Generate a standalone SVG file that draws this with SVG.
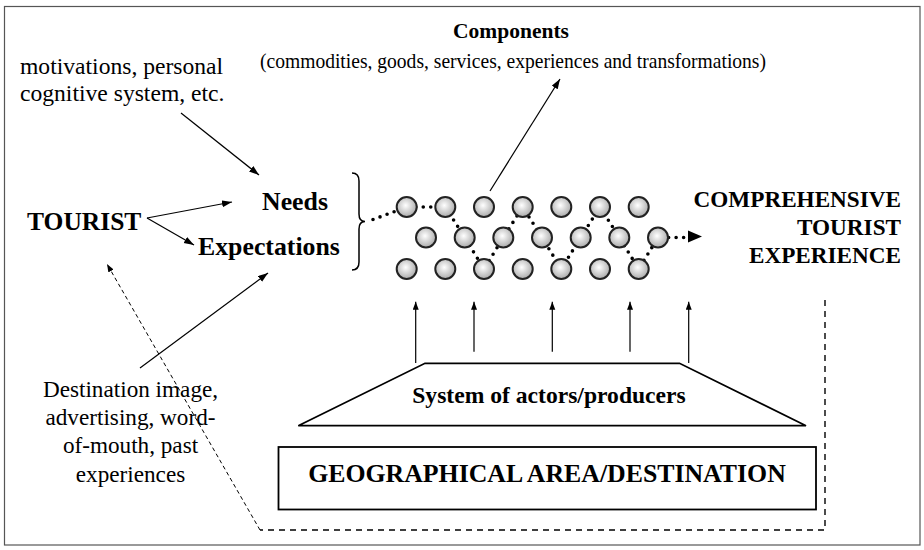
<svg xmlns="http://www.w3.org/2000/svg" width="924" height="550" viewBox="0 0 924 550" font-family="'Liberation Serif', 'Times New Roman', 'DejaVu Serif', serif">
<style>
text{font-family:'Liberation Serif','Times New Roman','DejaVu Serif',serif;fill:#000}
.b{font-weight:bold}
.ln{stroke:#000;stroke-width:1.2;fill:none}
.node{fill:url(#g);stroke:#222;stroke-width:2}
</style>
<defs>
<radialGradient id="g" cx="0.45" cy="0.42" r="0.6">
<stop offset="0" stop-color="#ffffff"/>
<stop offset="1" stop-color="#a8a8a8"/>
</radialGradient>
<marker id="ah" markerUnits="userSpaceOnUse" markerWidth="11" markerHeight="8" refX="10" refY="3.5" orient="auto">
<path d="M0,0 L10,3.5 L0,7 z" fill="#000"/>
</marker>
<marker id="ahs" markerUnits="userSpaceOnUse" markerWidth="9" markerHeight="7" refX="8" refY="3" orient="auto">
<path d="M0,0 L8,3 L0,6 z" fill="#000"/>
</marker>
</defs>
<rect x="4.5" y="6.5" width="915.5" height="538.5" fill="#fff" stroke="#555" stroke-width="1.2"/>

<g id="connectors">
<line class="ln" x1="181" y1="113" x2="259" y2="175" marker-end="url(#ah)"/>
<line class="ln" x1="147" y1="218" x2="232" y2="202" stroke-width="0.9" marker-end="url(#ah)"/>
<line class="ln" x1="147" y1="218" x2="194" y2="245" stroke-width="0.9" marker-end="url(#ah)"/>
<line class="ln" x1="140" y1="368" x2="268" y2="273" marker-end="url(#ah)"/>
<line class="ln" x1="490" y1="191" x2="560" y2="79" marker-end="url(#ah)"/>
<path d="M825,300 L825,530 L260,530" fill="none" stroke="#000" stroke-width="1.4" stroke-dasharray="6,5"/>
<path d="M260,530 L107,264" fill="none" stroke="#000" stroke-width="1" stroke-dasharray="4,3" marker-end="url(#ahs)"/>
<line class="ln" x1="415.7" y1="363" x2="415.7" y2="301.7" marker-end="url(#ahs)"/>
<line class="ln" x1="474" y1="351.7" x2="474" y2="301.7" marker-end="url(#ahs)"/>
<line class="ln" x1="552.3" y1="351.7" x2="552.3" y2="301.7" marker-end="url(#ahs)"/>
<line class="ln" x1="630" y1="351.7" x2="630" y2="301.7" marker-end="url(#ahs)"/>
<line class="ln" x1="688.7" y1="363" x2="688.7" y2="301.7" marker-end="url(#ahs)"/>
<path d="M373,219.5 L406.7,207 L445.3,207 L464.7,237.5 L484,269 L503.3,237.5 L522.7,207 L542,237.5 L561.3,269 L580.7,237.5 L600,207 L619.3,237.5 L638.7,269 L658,237.5 L686,237.5" fill="none" stroke="#000" stroke-width="3.6" stroke-linecap="round" stroke-dasharray="0,7.5"/>
<path d="M688,230.5 L702,236.5 L688,242.5 z" fill="#000"/>
</g>

<g id="brace">
<path d="M352,173 Q359,173 359,181 L359,214 Q359,221.5 365,221.5 Q359,221.5 359,229 L359,262 Q359,270 352,270" fill="none" stroke="#000" stroke-width="1.5"/>
</g>

<g id="components-grid">
<circle class="node" cx="406.7" cy="207" r="10"/>
<circle class="node" cx="445.3" cy="207" r="10"/>
<circle class="node" cx="484" cy="207" r="10"/>
<circle class="node" cx="522.7" cy="207" r="10"/>
<circle class="node" cx="561.3" cy="207" r="10"/>
<circle class="node" cx="600" cy="207" r="10"/>
<circle class="node" cx="638.7" cy="207" r="10"/>
<circle class="node" cx="426" cy="237.5" r="10"/>
<circle class="node" cx="464.7" cy="237.5" r="10"/>
<circle class="node" cx="503.3" cy="237.5" r="10"/>
<circle class="node" cx="542" cy="237.5" r="10"/>
<circle class="node" cx="580.7" cy="237.5" r="10"/>
<circle class="node" cx="619.3" cy="237.5" r="10"/>
<circle class="node" cx="658" cy="237.5" r="10"/>
<circle class="node" cx="406.7" cy="269" r="10"/>
<circle class="node" cx="445.3" cy="269" r="10"/>
<circle class="node" cx="484" cy="269" r="10"/>
<circle class="node" cx="522.7" cy="269" r="10"/>
<circle class="node" cx="561.3" cy="269" r="10"/>
<circle class="node" cx="600" cy="269" r="10"/>
<circle class="node" cx="638.7" cy="269" r="10"/>
</g>

<g id="components-label">
<text class="b" x="511" y="38" font-size="21.5" text-anchor="middle">Components</text>
<text x="513" y="68" font-size="21" text-anchor="middle" textLength="506" lengthAdjust="spacingAndGlyphs">(commodities, goods, services, experiences and transformations)</text>
</g>

<g id="motivations">
<text x="20" y="74" font-size="23.6">motivations, personal</text>
<text x="20" y="100.5" font-size="23.6">cognitive system, etc.</text>
</g>

<g id="tourist">
<text class="b" x="27" y="230" font-size="25.5">TOURIST</text>
</g>

<g id="needs">
<text class="b" x="262" y="210" font-size="25.8">Needs</text>
<text class="b" x="198" y="254.5" font-size="25.8">Expectations</text>
</g>

<g id="experience">
<text class="b" x="901" y="206.5" font-size="23.2" text-anchor="end">COMPREHENSIVE</text>
<text class="b" x="901" y="235" font-size="23.2" text-anchor="end">TOURIST</text>
<text class="b" x="901" y="263.3" font-size="23.2" text-anchor="end">EXPERIENCE</text>
</g>

<g id="destination-image">
<text x="130.5" y="396.7" font-size="23.2" text-anchor="middle">Destination image,</text>
<text x="130.5" y="425" font-size="23.2" text-anchor="middle">advertising, word-</text>
<text x="130.5" y="453.3" font-size="23.2" text-anchor="middle">of-mouth, past</text>
<text x="130.5" y="481.7" font-size="23.2" text-anchor="middle">experiences</text>
</g>

<g id="actors">
<path d="M425,363.3 L679.5,363.3 L806,425.7 L298.3,425.7 z" fill="none" stroke="#000" stroke-width="1.8"/>
<text class="b" x="549" y="403.3" font-size="23.6" text-anchor="middle">System of actors/producers</text>
</g>

<g id="geo">
<rect x="278.5" y="447" width="537.5" height="62.5" fill="none" stroke="#000" stroke-width="1.8"/>
<text class="b" x="547" y="482" font-size="25.8" text-anchor="middle">GEOGRAPHICAL AREA/DESTINATION</text>
</g>
</svg>
